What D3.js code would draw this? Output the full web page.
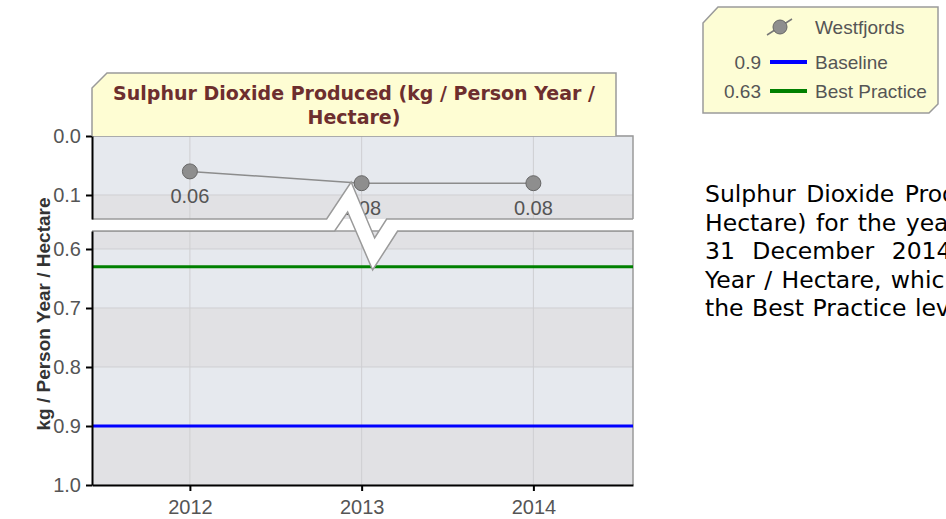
<!DOCTYPE html>
<html><head><meta charset="utf-8">
<script src="https://cdn.jsdelivr.net/npm/d3@7"></script>
<style>
html,body{margin:0;padding:0;background:#fff;overflow:hidden;}
svg{display:block}
</style></head><body>
<svg id="chart" width="946" height="519"></svg>
<script>
// ---------- data ----------
const years = [2012, 2013, 2014];
const westfjords = [0.06, 0.08, 0.08];
const baselineValue = 0.9;
const bestPracticeValue = 0.63;
const yTicksTop = [0.0, 0.1];
const yTicksBottom = [0.6, 0.7, 0.8, 0.9, 1.0];
const titleLines = ["Sulphur Dioxide Produced (kg / Person Year /", "Hectare)"];
const yAxisTitle = "kg / Person Year / Hectare";
const legendNames = ["Westfjords", "Baseline", "Best Practice"];
const legendValues = ["", "0.9", "0.63"];
const paragraphLines = [
  "Sulphur Dioxide Produced (kg / Person Year /",
  "Hectare) for the year from 1 January 2014 to",
  "31 December 2014 was 0.08 kg / Person",
  "Year / Hectare, which is better than",
  "the Best Practice level."
];
const paragraphSpacing = [3, 2, 10, 2, 1];

// ---------- layout ----------
const svg = d3.select("#chart");
const L = 92, R = 633;
const topY0 = 136, topY1 = 219, botY0 = 231, botY1 = 485;
const x = d3.scaleLinear().domain([2011.43, 2014.58]).range([L, R]);
const yTop = d3.scaleLinear().domain([0, 0.1407]).range([topY0, topY1]);
const yBot = d3.scaleLinear().domain([0.5695, 1.0]).range([botY0, botY1]);
const colA = "#e6e9ee", colB = "#e1e1e4", gridCol = "#cfcfd2", borderCol = "#9a9a9a";
const sansFont = "'Liberation Sans', Arial, sans-serif";

function panel(y, ticks) {
  const [d0, d1] = y.domain();
  const g = svg.append("g");
  for (let k = Math.floor(d0 * 10); k < Math.ceil(d1 * 10); k++) {
    const a = Math.max(d0, k / 10), b = Math.min(d1, (k + 1) / 10);
    g.append("rect").attr("x", L).attr("width", R - L)
      .attr("y", y(a)).attr("height", y(b) - y(a))
      .attr("fill", k % 2 === 0 ? colA : colB);
  }
  ticks.forEach(t => {
    g.append("line").attr("x1", L).attr("x2", R).attr("y1", y(t)).attr("y2", y(t))
      .attr("stroke", gridCol).attr("stroke-width", 1);
  });
  years.forEach(yr => {
    g.append("line").attr("x1", x(yr)).attr("x2", x(yr)).attr("y1", y.range()[0]).attr("y2", y.range()[1])
      .attr("stroke", gridCol).attr("stroke-width", 1);
  });
  return g;
}
panel(yTop, yTicksTop);
panel(yBot, yTicksBottom);

// panel borders (top & right)
svg.append("path").attr("d", `M${L},${topY0}H${R}V${topY1}`).attr("fill", "none").attr("stroke", borderCol).attr("stroke-width", 1.5);
svg.append("path").attr("d", `M${L},${botY0}H${R}V${botY1}`).attr("fill", "none").attr("stroke", borderCol).attr("stroke-width", 1.5);

// reference lines
svg.append("line").attr("x1", L).attr("x2", R).attr("y1", yBot(bestPracticeValue)).attr("y2", yBot(bestPracticeValue))
  .attr("stroke", "#008000").attr("stroke-width", 3);
svg.append("line").attr("x1", L).attr("x2", R).attr("y1", yBot(baselineValue)).attr("y2", yBot(baselineValue))
  .attr("stroke", "#0000ff").attr("stroke-width", 3);

// series
const pts = years.map((yr, i) => ({yr, v: westfjords[i]}));
svg.append("path").datum(pts)
  .attr("d", d3.line().x(d => x(d.yr)).y(d => yTop(d.v)))
  .attr("fill", "none").attr("stroke", "#8c8c8c").attr("stroke-width", 1.5);
svg.selectAll("circle.pt").data(pts).enter().append("circle").attr("class", "pt")
  .attr("cx", d => x(d.yr)).attr("cy", d => yTop(d.v)).attr("r", 7.5)
  .attr("fill", "#8e8e8e").attr("stroke", "#666").attr("stroke-width", 1);
svg.selectAll("text.lbl").data(pts).enter().append("text").attr("class", "lbl")
  .attr("x", d => x(d.yr)).attr("y", d => yTop(d.v) + 32)
  .attr("text-anchor", "middle").attr("font-family", sansFont).attr("font-size", 20)
  .attr("fill", "#555").text(d => d3.format(".2f")(d.v));

// break (zigzag) drawn over data
const bx = x(2013);
const upper = [[L, topY1], [bx - 35, topY1], [bx - 10.5, topY1 - 37], [bx + 13, topY1 + 19], [bx + 25, topY1], [R, topY1]];
const lower = [[L, botY0], [bx - 27, botY0], [bx - 14, botY0 - 19], [bx + 11, botY0 + 39], [bx + 36, botY0], [R, botY0]];
svg.append("path").attr("d", d3.line()(upper.concat(lower.slice().reverse())) + "Z").attr("fill", "#fff");
svg.append("path").attr("d", d3.line()(upper)).attr("fill", "none").attr("stroke", borderCol).attr("stroke-width", 1.5);
svg.append("path").attr("d", d3.line()(lower)).attr("fill", "none").attr("stroke", borderCol).attr("stroke-width", 1.5);

// axes
function styleAxis(g) {
  g.selectAll("path.domain").attr("stroke", "#000").attr("stroke-width", 2);
  g.selectAll(".tick line").attr("stroke", "#000").attr("stroke-width", 2);
  g.selectAll(".tick text").attr("fill", "#555").attr("font-size", 20).attr("font-family", sansFont);
}
svg.append("g").attr("transform", `translate(${L},0)`)
  .call(d3.axisLeft(yTop).tickValues(yTicksTop).tickFormat(d3.format(".1f")).tickSize(6).tickPadding(5).tickSizeOuter(0))
  .call(styleAxis);
svg.append("g").attr("transform", `translate(${L},0)`)
  .call(d3.axisLeft(yBot).tickValues(yTicksBottom).tickFormat(d3.format(".1f")).tickSize(6).tickPadding(5).tickSizeOuter(0))
  .call(styleAxis);
svg.append("g").attr("transform", `translate(0,${botY1})`)
  .call(d3.axisBottom(x).tickValues(years).tickFormat(d3.format("d")).tickSize(6).tickPadding(9).tickSizeOuter(0))
  .call(styleAxis);

// y axis title
svg.append("text").attr("transform", `translate(50,314) rotate(-90)`)
  .attr("text-anchor", "middle").attr("font-family", sansFont).attr("font-weight", "bold")
  .attr("font-size", 19).attr("fill", "#333").text(yAxisTitle);

// title box
svg.append("path").attr("d", `M${L},${topY0}V88L107,73H616V${topY0}`)
  .attr("fill", "#fefdd3").attr("stroke", borderCol).attr("stroke-width", 1.5);
titleLines.forEach((t, i) => {
  svg.append("text").attr("x", 354).attr("y", 100 + i * 24).attr("text-anchor", "middle")
    .attr("font-family", "'DejaVu Sans', Verdana, sans-serif").attr("font-weight", "bold")
    .attr("font-size", 19).attr("fill", "#6d2e2e").text(t);
});

// legend
svg.append("path").attr("d", "M703,23L718,7H938V104L929,113H703Z")
  .attr("fill", "#fdfdd5").attr("stroke", borderCol).attr("stroke-width", 1.5);
const rowY = [27, 62, 91];
svg.append("line").attr("x1", 767).attr("y1", 35).attr("x2", 792).attr("y2", 19).attr("stroke", "#777").attr("stroke-width", 1.5);
svg.append("circle").attr("cx", 780).attr("cy", 27).attr("r", 7).attr("fill", "#8e8e8e").attr("stroke", "#666");
svg.append("line").attr("x1", 770).attr("x2", 807).attr("y1", rowY[1]).attr("y2", rowY[1]).attr("stroke", "#0000ff").attr("stroke-width", 4);
svg.append("line").attr("x1", 770).attr("x2", 807).attr("y1", rowY[2]).attr("y2", rowY[2]).attr("stroke", "#008000").attr("stroke-width", 4);
legendNames.forEach((n, i) => {
  svg.append("text").attr("x", 815).attr("y", rowY[i]).attr("dy", "0.35em")
    .attr("font-family", sansFont).attr("font-size", 19).attr("fill", "#555").text(n);
  if (legendValues[i]) svg.append("text").attr("x", 761).attr("y", rowY[i]).attr("dy", "0.35em")
    .attr("text-anchor", "end").attr("font-family", sansFont).attr("font-size", 19).attr("fill", "#555").text(legendValues[i]);
});

// paragraph
paragraphLines.forEach((t, i) => {
  svg.append("text").attr("x", 705).attr("y", 202 + i * 28.5)
    .attr("font-family", "'DejaVu Sans', Verdana, sans-serif").attr("font-size", 23.5)
    .attr("word-spacing", paragraphSpacing[i]).attr("fill", "#000").text(t);
});
</script>
</body></html>
